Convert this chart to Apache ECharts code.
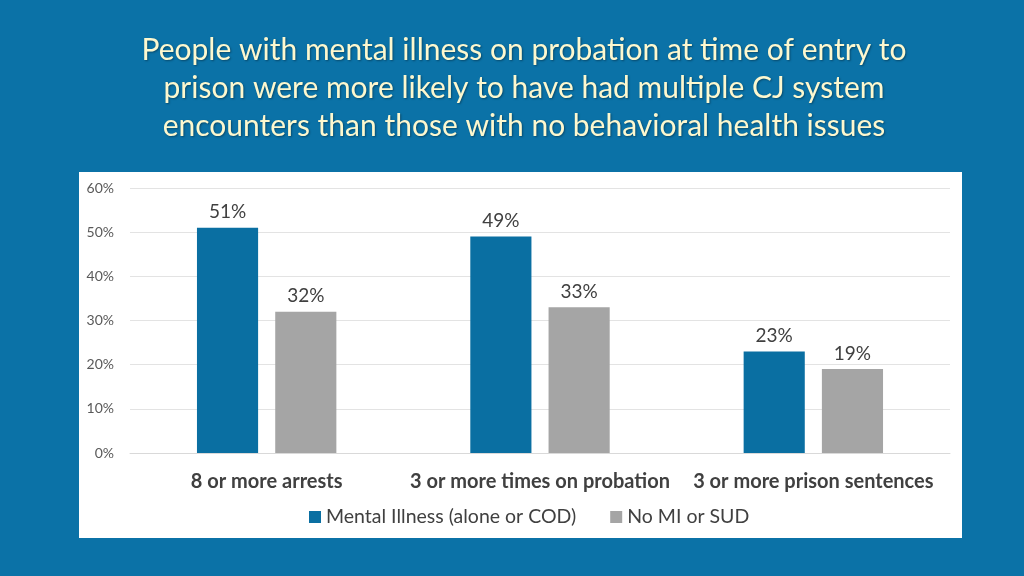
<!DOCTYPE html>
<html><head><meta charset="utf-8">
<script src="https://cdn.jsdelivr.net/npm/echarts@6/dist/echarts.min.js"></script>
<style>html,body{margin:0;padding:0;background:#0b72a7;}#c{width:1024px;height:576px;}</style>
</head><body><div id="c"></div>
<script>
const titleLines = ["People with mental illness on probation at time of entry to","prison were more likely to have had multiple CJ system","encounters than those with no behavioral health issues"];
const categories = ["8 or more arrests","3 or more times on probation","3 or more prison sentences"];
const seriesNames = ["Mental Illness (alone or COD)","No MI or SUD"];
const mentalIllness = [51,49,23];
const noMiSud = [32,33,19];
const yTicks = [0,10,20,30,40,50,60];

const font = "Lato, 'Open Sans', sans-serif";
const chart = echarts.init(document.getElementById('c'));
chart.setOption({
  backgroundColor: '#0b72a7',
  animation: false,
  graphic: [{type:'rect', shape:{x:79,y:172,width:883,height:366}, style:{fill:'#ffffff'}, z:-10}],
  title: {
    text: titleLines.join('\n'), left: 519, textAlign: 'center', top: 26,
    textStyle: {color:'#fdf8cf', fontFamily: font, fontSize: 30, fontWeight: 'normal', lineHeight: 38,
      textShadowColor:'rgba(0,0,0,0.35)', textShadowBlur:2, textShadowOffsetX:1, textShadowOffsetY:1}
  },
  legend: {
    data: seriesNames, bottom: 44, left: 304, itemWidth: 12, itemHeight: 12, itemGap: 34, icon: 'rect',
    textStyle: {color:'#404040', fontFamily: font, fontSize: 19.5}
  },
  grid: {left: 130, right: 74, top: 188, bottom: 123, containLabel: false},
  xAxis: {
    type: 'category', data: categories,
    axisLine: {lineStyle:{color:'#d9d9d9'}}, axisTick: {show:false},
    axisLabel: {color:'#404040', fontFamily: font, fontSize: 20, fontWeight: 'bold', margin: 19, interval: 0}
  },
  yAxis: {
    type: 'value', min: 0, max: 60, interval: 10,
    axisLabel: {formatter: v => yTicks.includes(v) ? v + '%' : '', color:'#595959', fontFamily: font, fontSize: 14, margin: 16},
    splitLine: {lineStyle:{color:'#e3e3e3'}}, axisLine:{show:false}, axisTick:{show:false}
  },
  series: [
    {name: seriesNames[0], type:'bar', data: mentalIllness, itemStyle:{color:'#0a6fa2'}, barGap:'28%', barCategoryGap:'49%',
     label:{show:true, position:'top', distance:6, formatter:'{c}%', color:'#404040', fontFamily: font, fontSize:19}},
    {name: seriesNames[1], type:'bar', data: noMiSud, itemStyle:{color:'#a5a5a5'},
     label:{show:true, position:'top', distance:6, formatter:'{c}%', color:'#404040', fontFamily: font, fontSize:19}}
  ]
});
</script></body></html>
